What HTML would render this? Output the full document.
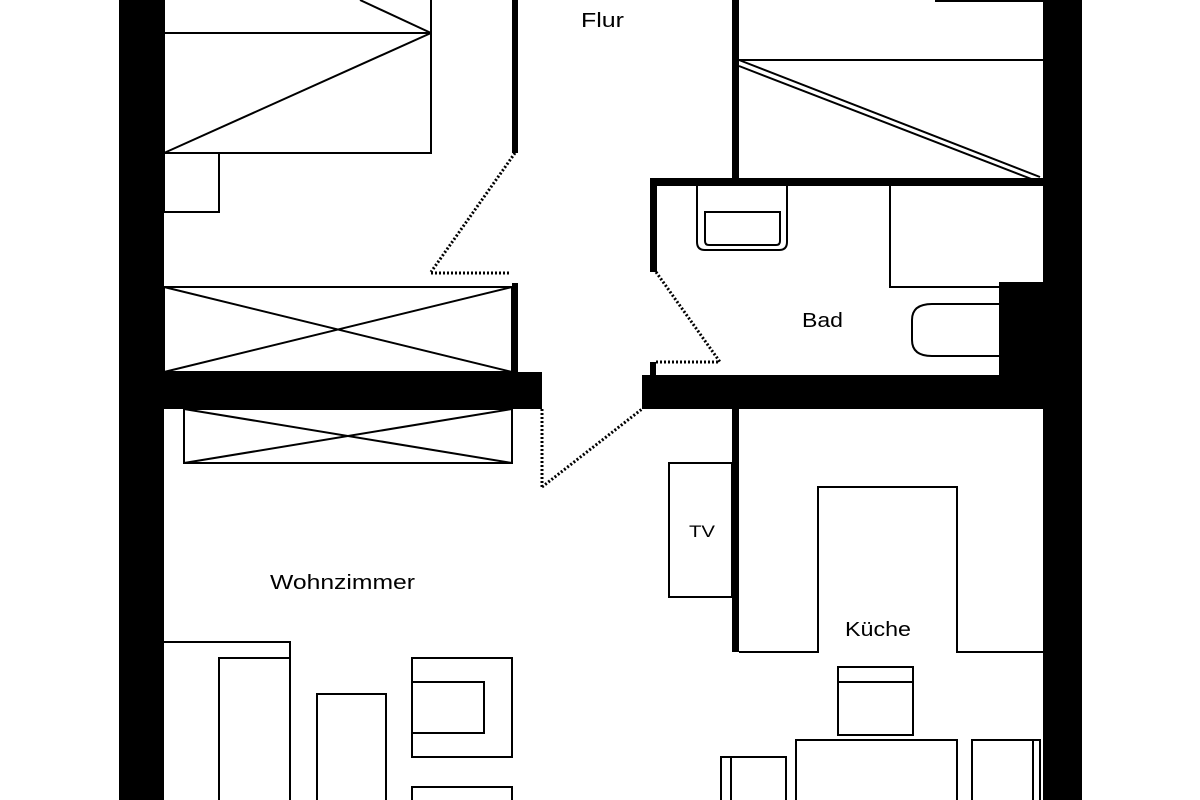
<!DOCTYPE html>
<html><head><meta charset="utf-8"><style>
html,body{margin:0;padding:0;background:#fff;width:1200px;height:800px;overflow:hidden}
text{font-family:"Liberation Sans",sans-serif;font-size:20px;fill:#000}
</style></head><body>
<svg width="1200" height="800" viewBox="0 0 1200 800" xmlns="http://www.w3.org/2000/svg">
<g fill="#000">
<rect x="119" y="0" width="45" height="800"/>
<rect x="1043" y="0" width="39" height="800"/>
<rect x="512" y="0" width="6" height="153"/>
<rect x="512" y="283" width="6" height="90"/>
<rect x="119" y="372" width="423" height="37"/>
<rect x="642" y="375" width="401" height="34"/>
<rect x="650" y="362" width="6" height="14"/>
<rect x="732" y="0" width="7" height="180"/>
<rect x="650" y="178" width="393" height="8"/>
<rect x="650" y="178" width="7" height="94"/>
<rect x="999" y="282" width="44" height="95"/>
<rect x="732" y="409" width="7" height="243"/>
</g>
<g stroke="#000" stroke-width="2" fill="none">
<rect x="164" y="-5" width="267" height="158"/>
<line x1="164" y1="33" x2="431" y2="33"/>
<line x1="164" y1="153" x2="431" y2="33"/>
<line x1="360" y1="0" x2="431" y2="33"/>
<rect x="164" y="153" width="55" height="59"/>
<rect x="164" y="287" width="348" height="85"/>
<line x1="164" y1="287" x2="512" y2="372"/>
<line x1="164" y1="372" x2="512" y2="287"/>
<rect x="184" y="409" width="328" height="54"/>
<line x1="184" y1="409" x2="512" y2="463"/>
<line x1="184" y1="463" x2="512" y2="409"/>
<line x1="739" y1="60" x2="1043" y2="60"/>
<line x1="935" y1="1" x2="1043" y2="1"/>
<line x1="739" y1="60" x2="1040" y2="177"/>
<line x1="739" y1="66" x2="1034" y2="180"/>
<path d="M697 186 V242 Q697 250 705 250 H779 Q787 250 787 242 V186"/>
<path d="M705 212 H780 V241 Q780 245 776 245 H709 Q705 245 705 241 Z"/>
<path d="M890 186 V287 H1000"/>
<path d="M1000 304 H932 Q912 304 912 320 V340 Q912 356 932 356 H1000"/>
<rect x="669" y="463" width="63" height="134"/>
<path d="M739 652 H818 V487 H957 V652 H1043"/>
<rect x="838" y="667" width="75" height="68"/>
<line x1="838" y1="682" x2="913" y2="682"/>
<rect x="796" y="740" width="161" height="70"/>
<rect x="972" y="740" width="68" height="70"/>
<line x1="1033" y1="740" x2="1033" y2="800"/>
<rect x="721" y="757" width="65" height="60"/>
<line x1="731" y1="757" x2="731" y2="800"/>
<path d="M164 642 H290 V800"/>
<rect x="219" y="658" width="71" height="150"/>
<rect x="317" y="694" width="69" height="120"/>
<rect x="412" y="658" width="100" height="99"/>
<rect x="412" y="682" width="72" height="51"/>
<rect x="412" y="787" width="100" height="30"/>
</g>
<g stroke="#000" stroke-width="3" stroke-dasharray="2,2" fill="none">
<line x1="515" y1="153" x2="431" y2="272"/>
<line x1="431" y1="273" x2="510" y2="273"/>
<line x1="542" y1="409" x2="542" y2="487"/>
<line x1="542" y1="487" x2="642" y2="409"/>
<line x1="656" y1="272" x2="720" y2="362"/>
<line x1="656" y1="362" x2="720" y2="362"/>
</g>
<text x="581" y="27" textLength="43" lengthAdjust="spacingAndGlyphs">Flur</text>
<text x="802" y="327" textLength="41" lengthAdjust="spacingAndGlyphs">Bad</text>
<text x="270" y="589" textLength="145" lengthAdjust="spacingAndGlyphs">Wohnzimmer</text>
<text x="689" y="537" style="font-size:17px" textLength="26" lengthAdjust="spacingAndGlyphs">TV</text>
<text x="845" y="636" textLength="66" lengthAdjust="spacingAndGlyphs">Küche</text>
</svg>
</body></html>
